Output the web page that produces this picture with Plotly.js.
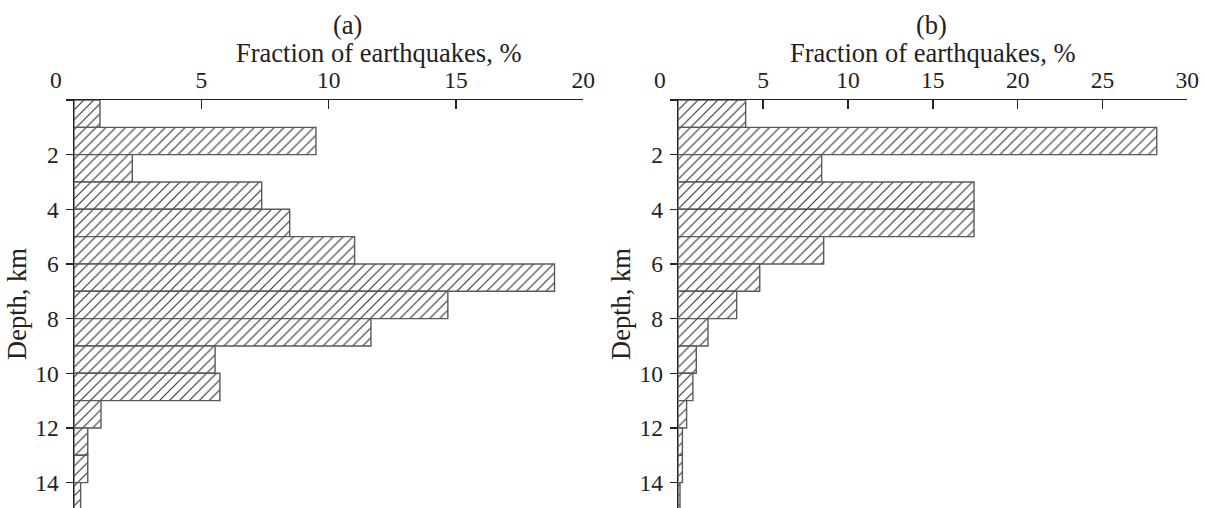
<!DOCTYPE html>
<html>
<head>
<meta charset="utf-8">
<script src="https://cdn.plot.ly/plotly-3.0.1.min.js"></script>
<style>html,body{margin:0;padding:0;background:#fff;}#chart{width:1205px;height:508px;}</style>
</head>
<body>
<div id="chart"></div>
<script>
// Depth bins (km): midpoints of 1-km layers 0–1 ... 14–15
const depthMid = [0.5, 1.5, 2.5, 3.5, 4.5, 5.5, 6.5, 7.5, 8.5, 9.5, 10.5, 11.5, 12.5, 13.5, 14.5];
// Panel (a): fraction of earthquakes, %
const fractionA = [1.02, 9.50, 2.29, 7.37, 8.47, 11.02, 18.87, 14.68, 11.66, 5.54, 5.73, 1.06, 0.54, 0.54, 0.26];
// Panel (b): fraction of earthquakes, %
const fractionB = [3.97, 28.2, 8.45, 17.43, 17.43, 8.57, 4.80, 3.44, 1.75, 1.06, 0.86, 0.49, 0.24, 0.24, 0.10];
const xTicksA = [5, 10, 15, 20];
const xTicksB = [5, 10, 15, 20, 25, 30];
const yTicks = [0, 2, 4, 6, 8, 10, 12, 14];
const yTickText = ['', '2', '4', '6', '8', '10', '12', '14'];
const panelLabels = ['(a)', '(b)'];
const xTitle = 'Fraction of earthquakes, %';
const yTitle = 'Depth, km';

const FONT = 'Liberation Serif, Times New Roman, serif';
const INK = '#222';
const TICK_SIZE = 23.5;
const TITLE_SIZE = 26.5;

function barTrace(x, xa, ya) {
  return {
    type: 'bar', orientation: 'h', y: depthMid, x: x, width: 1,
    xaxis: xa, yaxis: ya, showlegend: false, hoverinfo: 'x+y',
    marker: {
      color: '#ffffff',
      line: {color: '#5a5a5a', width: 1.4},
      pattern: {shape: '/', size: 7, solidity: 0.16, fgcolor: '#333', bgcolor: '#ffffff'}
    }
  };
}

function xAxis(range, tickvals, domain, anchor) {
  return {
    domain: domain, range: range, side: 'top', anchor: anchor,
    tickmode: 'array', tickvals: tickvals, ticktext: tickvals.map(String),
    ticks: 'inside', ticklen: 9, tickwidth: 1.5, tickcolor: INK,
    showline: true, linecolor: INK, linewidth: 1.5, showgrid: false, zeroline: false,
    tickfont: {family: FONT, size: TICK_SIZE, color: INK}, ticklabelstandoff: 1
  };
}
function yAxis(anchor) {
  return {
    anchor: anchor, domain: [0, 1], range: [14.93, 0],
    tickmode: 'array', tickvals: yTicks, ticktext: yTickText,
    ticks: 'outside', ticklen: 7, tickwidth: 1.5, tickcolor: INK,
    showline: true, linecolor: INK, linewidth: 1.5, showgrid: false, zeroline: false,
    tickfont: {family: FONT, size: TICK_SIZE, color: INK}, ticklabelstandoff: 2,
    title: {text: yTitle, font: {family: FONT, size: TITLE_SIZE, color: INK}, standoff: 1}
  };
}

function txt(text, xref, x, yshift, size, xshift) {
  return {text: text, xref: xref, x: x, yref: 'paper', y: 1, yanchor: 'middle',
    yshift: yshift, xshift: xshift || 0, showarrow: false,
    font: {family: FONT, size: size, color: INK}};
}

const W = 1205;
const data = [barTrace(fractionA, 'x', 'y'), barTrace(fractionB, 'x2', 'y2')];
const layout = {
  width: W, height: 508,
  margin: {l: 0, r: 0, t: 100, b: 0},
  paper_bgcolor: '#fff', plot_bgcolor: '#fff',
  bargap: 0,
  xaxis: xAxis([0, 20], xTicksA, [74 / W, 583.3 / W], 'y'),
  yaxis: yAxis('x'),
  xaxis2: xAxis([0, 30], xTicksB, [678.3 / W, 1187.3 / W], 'y2'),
  yaxis2: yAxis('x2'),
  annotations: [
    txt(panelLabels[0], 'x', 10.75, 75, TITLE_SIZE),
    txt(panelLabels[1], 'x2', 14.95, 75, TITLE_SIZE),
    txt(xTitle, 'x', 11.97, 47, TITLE_SIZE),
    txt(xTitle, 'x2', 15, 47, TITLE_SIZE),
    txt('0', 'x', 0, 20, TICK_SIZE, -18),
    txt('0', 'x2', 0, 20, TICK_SIZE, -18)
  ]
};
Plotly.newPlot('chart', data, layout, {displayModeBar: false, staticPlot: true});
</script>
</body>
</html>
